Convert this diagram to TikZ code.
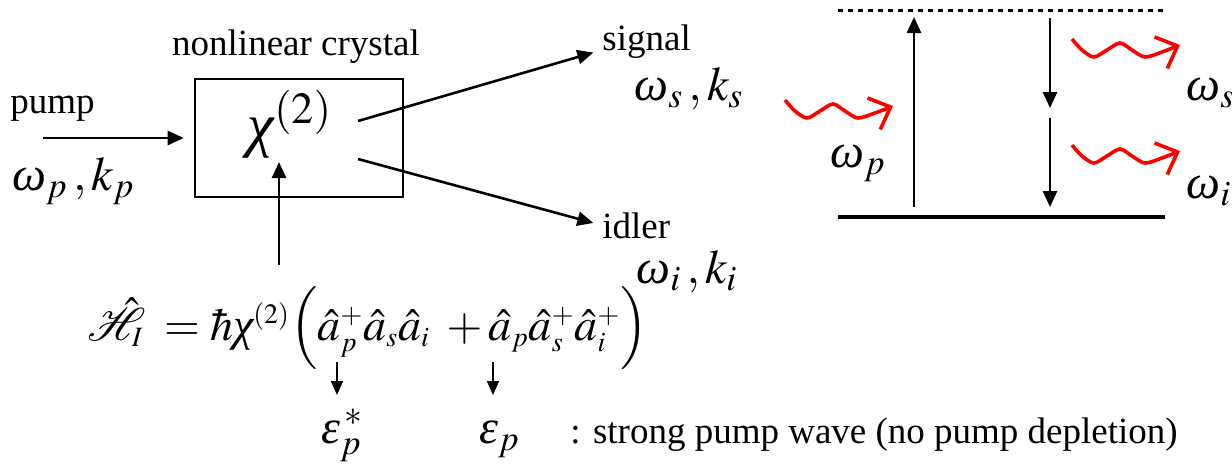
\documentclass[tikz,border=0pt]{standalone}
\usepackage{amsmath}
\usepackage{mathptmx}
\usepackage[no-math]{fontspec}
\setmainfont{Liberation Serif}
\usepackage{tikz}
\usetikzlibrary{arrows.meta, positioning}

\DeclareMathSizes{23}{23}{14}{10}
\newcommand{\gom}{\textit{ω}}
\newcommand{\gchi}{\textit{χ}}
\newcommand{\geps}{\textit{ε}}

\tikzset{
  txt/.style={font=\fontsize{18.5}{22}\selectfont, inner sep=0pt, anchor=base west},
  mth/.style={font=\fontsize{24}{28}\selectfont, inner sep=0pt, anchor=base west},
  fat/.style={line width=1.3pt, -{Triangle[length=8pt, width=7pt]}},
  tinyarr/.style={line width=0.8pt, -{Triangle[length=7pt, width=6pt]}},
  wave/.style={red, line width=1.8pt, -{Straight Barb[length=9pt, width=17pt, line width=1.8pt]}}
}

\begin{document}
\begin{tikzpicture}[x=0.5pt, y=-0.5pt]
  \useasboundingbox (0,0) rectangle (1232,466);
  % kristall
  \node[draw, line width=1.3pt, minimum width=104pt, minimum height=59pt, inner sep=0pt] (crystal) at (299,138) {};
  \node[txt, anchor=base] (crystallbl) at (296,55) {nonlinear crystal};
  \node[inner sep=0pt, font=\fontsize{30}{34}\selectfont] (chi) at (290,124) {$\gchi^{(2)}$};
  % pumpe
  \node[txt] (pumplbl) at (10,113) {pump};
  \node[mth] (pumpfreq) at (12,190) {$\gom_p\,,k_p$};
  \coordinate (pumpin) at (43,138);
  \draw[fat, shorten >=5pt] (pumpin) -- (crystal.west);
  % signal und idler
  \node[txt] (siglbl) at (602,50) {signal};
  \node[mth] (sigfreq) at (634,100) {$\gom_s\,,k_s$};
  \node[txt] (idllbl) at (602,238) {idler};
  \node[mth] (idlfreq) at (636,283) {$\gom_i\,,k_i$};
  \coordinate (sigout) at (358,121);
  \coordinate (idlout) at (358,159);
  \draw[fat, shorten >=4.5pt] (sigout) -- (siglbl.base west);
  \draw[fat, shorten >=4.5pt] (idlout) -- (idllbl.west);
  % hamiltonian
  \node[mth, font=\fontsize{23}{27}\selectfont] (ham) at (87,340)
    {$\hat{\mathcal{H}}_I\; = \hbar\gchi^{(2)}\Big(\hat{a}_p^{+}\hat{a}_s\hat{a}_i\;+\hat{a}_p\hat{a}_s^{+}\hat{a}_i^{+}\Big)$};
  \coordinate (hamup) at (279,265);
  \coordinate (chiin) at (279,162);
  \draw[fat] (hamup) -- (chiin);
  % starke pumpe
  \node[mth] (epsconj) at (321,443) {$\geps_p^{\,*}$};
  \node[mth] (eps) at (479,443) {$\geps_p$};
  \node[txt] (note) at (570,443) {: strong pump wave (no pump depletion)};
  \coordinate (conjfrom) at (337,362);
  \coordinate (conjto) at (337,395);
  \coordinate (epsfrom) at (493,362);
  \coordinate (epsto) at (493,395);
  \draw[tinyarr] (conjfrom) -- (conjto);
  \draw[tinyarr] (epsfrom) -- (epsto);
  % niveaus
  \coordinate (virtL) at (838,10);
  \coordinate (virtR) at (1163,10);
  \coordinate (gndL) at (838,217);
  \coordinate (gndR) at (1165,217);
  \draw[line width=1.5pt, dash pattern=on 2.5pt off 2.5pt] (virtL) -- (virtR);
  \draw[line width=2pt] (gndL) -- (gndR);
  \coordinate (upfrom) at (914,207);
  \coordinate (upto) at (914,17);
  \coordinate (dnA) at (1050,18);
  \coordinate (dnB) at (1050,108);
  \coordinate (dnC) at (1050,118);
  \coordinate (dnD) at (1050,207);
  \draw[fat] (upfrom) -- (upto);
  \draw[fat] (dnA) -- (dnB);
  \draw[fat] (dnC) -- (dnD);
  \node[mth] (wp) at (830,167) {$\gom_p$};
  \node[mth] (ws) at (1186,100) {$\gom_s$};
  \node[mth] (wi) at (1186,198) {$\gom_i$};
  % photonen
  \coordinate (pumpwave) at (785,103);
  \coordinate (sigwave) at (1072,42);
  \coordinate (idlwave) at (1072,148);
  \foreach \w in {pumpwave, sigwave, idlwave}
    \draw[wave, shift={(\w)}] plot[smooth] coordinates
      {(0,-3) (10,8) (22,15) (35,8) (48,1) (60,8) (73,15) (90,10) (108,3)};
\end{tikzpicture}
\end{document}
